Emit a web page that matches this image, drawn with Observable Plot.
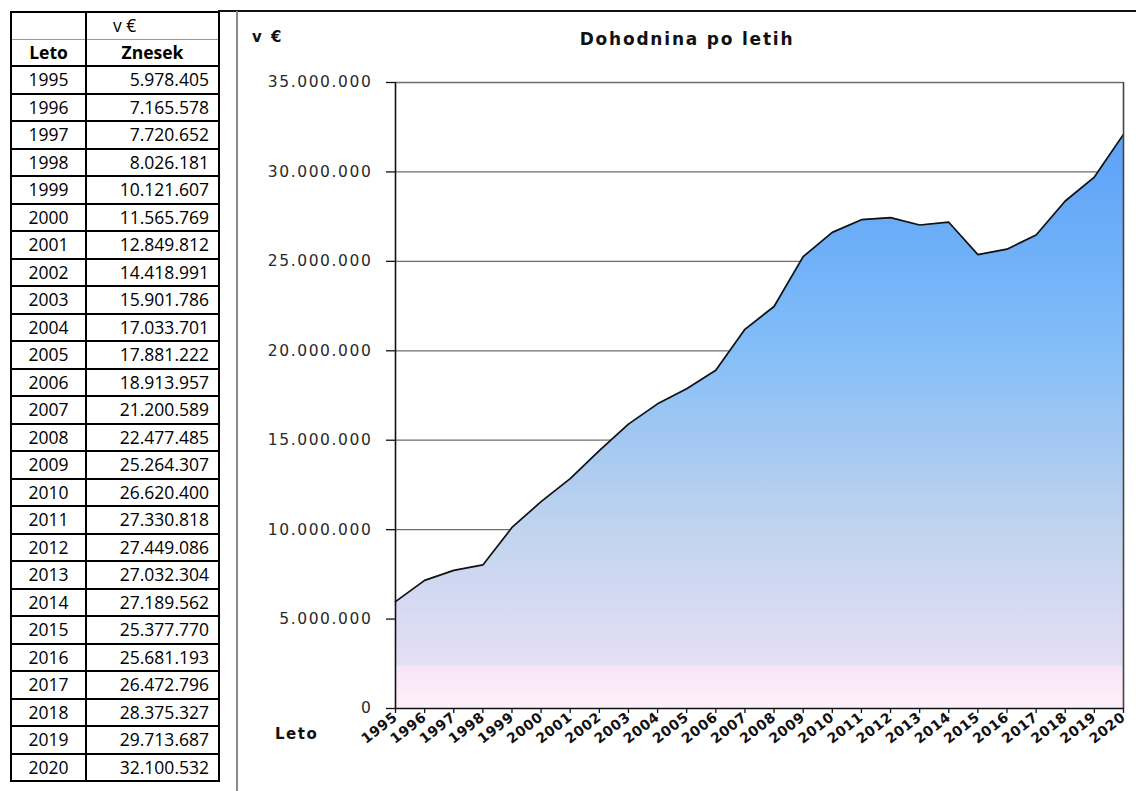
<!DOCTYPE html>
<html>
<head>
<meta charset="utf-8">
<script src="https://cdn.jsdelivr.net/npm/d3@7"></script>
<script src="https://cdn.jsdelivr.net/npm/@observablehq/plot@0.6"></script>
<style>
  html, body { margin: 0; padding: 0; background: #fff; width: 1136px; height: 791px; overflow: hidden; position: relative; }
  #tbl { position: absolute; left: 10px; top: 11px; border-collapse: collapse; table-layout: fixed;
         font-family: "Open Sans", "Noto Sans", sans-serif; font-size: 17.5px; color: #000; }
  #tbl td, #tbl th { border: 2px solid #000; padding: 0; height: 25.5px; line-height: 21px; }
  #tbl col.c1 { width: 75px; }
  #tbl col.c2 { width: 133px; }
  #tbl td.yr { text-align: center; }
  #tbl td.val { text-align: right; padding-right: 9px; }
  #tbl tr.h1 td { border-bottom: 1px solid #9a9a9a; font-weight: normal; }
  #tbl tr.h2 th { border-top: 1px solid #9a9a9a; text-align: center; font-weight: bold; }
  #tbl td.unit { text-align: left; padding-left: 26px; }
  .hline { position: absolute; left: 218px; top: 10px; width: 918px; height: 2px; background: #111; }
  .vline { position: absolute; left: 236px; top: 11px; width: 2px; height: 780px; background: #8a8a8a; }
  #chart { position: absolute; left: 240px; top: 12px; }
  .lbl { position: absolute; font-family: "DejaVu Sans", Verdana, sans-serif; font-weight: bold; color: #111; white-space: nowrap; }
  #title { left: 437px; width: 500px; top: 29px; text-align: center; font-size: 17px; letter-spacing: 1.8px; }
  #unit { left: 252px; top: 28px; font-size: 15px; letter-spacing: 2px; }
  #leto { left: 275px; top: 725px; font-size: 15px; letter-spacing: 1.5px; }
  #chart svg g[aria-label="y-axis tick label"] text { letter-spacing: 1.6px; }
  #chart svg g[aria-label="x-axis tick label"] text { letter-spacing: 0.5px; }
</style>
</head>
<body>
<table id="tbl">
  <colgroup><col class="c1"><col class="c2"></colgroup>
  <tbody id="tbody">
    <tr class="h1"><td></td><td class="unit">v €</td></tr>
    <tr class="h2"><th>Leto</th><th>Znesek</th></tr>
  </tbody>
</table>
<div class="hline"></div>
<div class="vline"></div>
<div id="unit" class="lbl">v €</div>
<div id="title" class="lbl">Dohodnina po letih</div>
<div id="leto" class="lbl">Leto</div>
<div id="chart"></div>
<script>
// ---- data ----
const years = [1995, 1996, 1997, 1998, 1999, 2000, 2001, 2002, 2003, 2004, 2005, 2006, 2007,
               2008, 2009, 2010, 2011, 2012, 2013, 2014, 2015, 2016, 2017, 2018, 2019, 2020];
const amounts = [5978405, 7165578, 7720652, 8026181, 10121607, 11565769, 12849812, 14418991,
                 15901786, 17033701, 17881222, 18913957, 21200589, 22477485, 25264307, 26620400,
                 27330818, 27449086, 27032304, 27189562, 25377770, 25681193, 26472796, 28375327,
                 29713687, 32100532];
const yTicks = [0, 5000000, 10000000, 15000000, 20000000, 25000000, 30000000, 35000000];
// gradient colour stops: value -> colour
const gradValues = [35000000, 30000000, 25000000, 20000000, 15000000, 10000000, 5000000, 2400000, 2350000, 0];
const gradColors = ["#599cf2", "#63a6f7", "#70b1f8", "#84bef8", "#a3c8f2", "#c0d4ee", "#dadaf3", "#e3dff6", "#f8e5f6", "#fcf0fa"];

const locale = d3.formatLocale({decimal: ",", thousands: ".", grouping: [3], currency: ["", " €"]});
const fmt = locale.format(",d");

// ---- table ----
const tbody = document.getElementById("tbody");
years.forEach((yr, i) => {
  const tr = document.createElement("tr");
  tr.innerHTML = `<td class="yr">${yr}</td><td class="val">${fmt(amounts[i])}</td>`;
  tbody.appendChild(tr);
});

// ---- chart ----
const data = years.map((year, i) => ({year, value: amounts[i]}));
const W = 896, H = 779, mL = 155, mR = 13, mT = 70, mB = 83;
const yMax = yTicks[yTicks.length - 1];

const gradientMark = () => {
  const defs = d3.create("svg:defs");
  const g = defs.append("linearGradient")
    .attr("id", "areaGrad")
    .attr("gradientUnits", "userSpaceOnUse")
    .attr("x1", 0).attr("x2", 0)
    .attr("y1", mT).attr("y2", H - mB);
  gradValues.forEach((v, i) => {
    g.append("stop").attr("offset", (yMax - v) / yMax).attr("stop-color", gradColors[i]);
  });
  return defs.node();
};

const chart = Plot.plot({
  width: W, height: H,
  marginLeft: mL, marginRight: mR, marginTop: mT, marginBottom: mB,
  style: {fontFamily: "'DejaVu Sans', Verdana, sans-serif", background: "transparent", overflow: "visible", color: "#111"},
  x: {domain: [years[0], years[years.length - 1]], label: null},
  y: {domain: [0, yMax], label: null},
  marks: [
    gradientMark,
    Plot.ruleY(yTicks.filter(d => d > 0), {stroke: "#6e6e6e", strokeWidth: 1.3}),
    Plot.areaY(data, {x: "year", y: "value", fill: "url(#areaGrad)"}),
    Plot.lineY(data, {x: "year", y: "value", stroke: "#111", strokeWidth: 1.7}),
    Plot.ruleX([years[years.length - 1]], {y1: 0, y2: yMax, stroke: "#444", strokeWidth: 1.6}),
    Plot.ruleX([years[0]], {y1: 0, y2: yMax, stroke: "#111", strokeWidth: 1.6}),
    Plot.ruleY([0], {stroke: "#111", strokeWidth: 1.6}),
    Plot.axisY({ticks: yTicks, tickFormat: fmt, tickSize: 9, tickPadding: 14, fontSize: 15.5, fill: "#2a2a2a", stroke: "#111", strokeWidth: 1.3}),
    Plot.axisX({ticks: years, tickFormat: d => String(d), tickRotate: -38, tickSize: 5, tickPadding: 2,
                fontSize: 14, fontWeight: "bold", fill: "#111", stroke: "#111", strokeWidth: 1.3})
  ]
});
document.getElementById("chart").appendChild(chart);
</script>
</body>
</html>
